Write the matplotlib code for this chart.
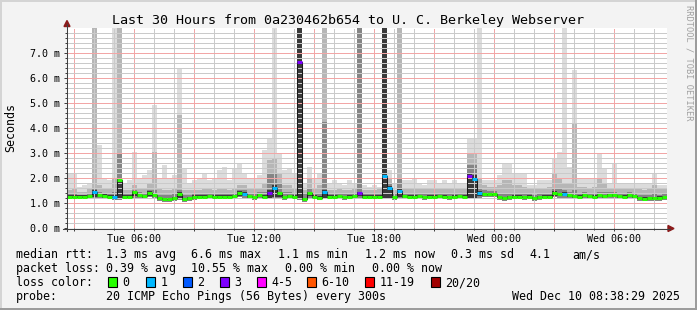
import matplotlib
matplotlib.use('Agg')
import matplotlib.pyplot as plt
import matplotlib.dates as mdates
from matplotlib.ticker import MultipleLocator, FixedLocator, FuncFormatter
from matplotlib.patches import Rectangle, Polygon
from matplotlib.lines import Line2D
import numpy as np
import pandas as pd

# ---------------- data ----------------
start_time = "2025-12-09 02:38:29"
end_time = "2025-12-10 08:38:29"
bin_freq = "15min"

median_ms = [1.25,1.25,1.25,1.25,1.27,1.42,1.30,1.28,1.25,1.22,
             1.92,1.25,1.25,1.42,1.32,1.27,1.41,1.32,1.19,1.15,
             1.15,1.19,1.36,1.15,1.19,1.25,1.25,1.25,1.27,1.25,
             1.25,1.25,1.25,1.27,1.41,1.36,1.27,1.23,1.32,1.25,
             1.39,1.60,1.39,1.22,1.27,1.25,6.65,1.15,1.39,1.25,
             1.20,1.45,1.25,1.25,1.27,1.23,1.25,1.27,1.39,1.25,
             1.25,1.25,1.25,2.09,1.60,1.22,1.49,1.27,1.25,1.25,
             1.27,1.22,1.25,1.25,1.27,1.25,1.22,1.25,1.27,1.25,
             2.08,1.96,1.41,1.35,1.35,1.35,1.22,1.19,1.22,1.25,
             1.25,1.22,1.25,1.19,1.22,1.25,1.25,1.41,1.35,1.36,
             1.30,1.27,1.25,1.30,1.27,1.25,1.30,1.27,1.30,1.30,
             1.27,1.25,1.30,1.27,1.19,1.17,1.19,1.19,1.20,1.23]

lost_pings = [0,0,0,0,0,1,0,0,0,1,
              0,0,0,0,0,0,0,0,0,0,
              0,0,0,0,0,0,0,0,0,0,
              0,0,0,0,0,1,0,0,0,0,
              3,1,0,0,0,0,3,0,0,0,
              0,1,0,0,0,0,0,0,3,0,
              0,0,0,1,1,0,1,0,0,0,
              0,0,0,0,0,0,0,0,0,0,
              3,1,1,0,0,0,0,0,0,0,
              0,0,0,0,0,0,0,0,0,1,
              0,0,0,0,0,0,0,0,0,0,
              0,0,0,0,0,0,0,0,0,0]

ping_min = [1.14,1.14,1.14,1.14,1.15,1.16,1.16,1.15,1.14,1.10,
            1.12,1.14,1.14,1.20,1.18,1.15,1.22,1.18,1.08,1.05,
            1.05,1.08,1.12,1.05,1.08,1.12,1.14,1.14,1.15,1.14,
            1.14,1.14,1.14,1.15,1.22,1.20,1.15,1.12,1.18,1.14,
            1.15,1.18,1.18,1.10,1.15,1.14,1.12,1.05,1.20,1.14,
            1.10,1.15,1.14,1.14,1.15,1.12,1.14,1.15,1.20,1.14,
            1.14,1.14,1.14,1.15,1.15,1.10,1.18,1.15,1.14,1.14,
            1.15,1.10,1.14,1.14,1.15,1.14,1.10,1.14,1.15,1.14,
            1.14,1.14,1.20,1.22,1.22,1.22,1.10,1.08,1.10,1.14,
            1.14,1.10,1.14,1.08,1.10,1.14,1.14,1.22,1.20,1.20,
            1.18,1.15,1.14,1.18,1.15,1.14,1.18,1.15,1.18,1.18,
            1.15,1.14,1.18,1.15,1.08,1.06,1.08,1.08,1.08,1.12]

ping_core = [1.31,1.31,1.31,1.31,1.33,1.50,1.36,1.34,1.31,1.30,
             2.00,1.31,1.31,1.48,1.38,1.33,1.47,1.38,1.25,1.21,
             1.21,1.25,1.42,1.21,1.25,1.31,1.31,1.31,1.33,1.31,
             1.31,1.31,1.31,1.33,1.47,1.42,1.33,1.29,1.38,1.31,
             1.50,1.70,1.45,1.28,1.33,1.31,9.00,1.21,1.45,1.31,
             1.26,1.52,1.31,1.31,1.33,1.29,1.31,1.33,1.45,1.31,
             1.31,1.31,1.31,9.00,1.66,1.28,1.55,1.33,1.31,1.31,
             1.33,1.28,1.31,1.31,1.33,1.31,1.28,1.31,1.33,1.31,
             2.20,2.10,1.47,1.41,1.41,1.41,1.28,1.25,1.28,1.31,
             1.31,1.28,1.31,1.25,1.28,1.31,1.31,1.47,1.41,1.42,
             1.36,1.33,1.31,1.36,1.33,1.31,1.36,1.33,1.36,1.36,
             1.33,1.31,1.36,1.33,1.25,1.23,1.25,1.25,1.26,1.29]

ping_p75 = [1.35,1.35,1.32,1.32,1.38,1.55,1.45,1.40,1.38,1.45,
            3.00,1.35,1.35,1.50,1.45,1.40,1.50,1.50,1.32,1.30,
            1.30,1.35,1.50,1.30,1.30,1.35,1.35,1.35,1.38,1.35,
            1.35,1.38,1.35,1.40,1.50,1.50,1.40,1.35,1.45,1.45,
            2.20,2.20,1.80,1.45,1.45,1.40,9.00,1.35,1.60,1.40,
            1.40,4.25,1.35,1.35,1.38,1.35,1.35,1.38,9.00,1.35,
            1.35,1.35,1.38,9.00,1.80,1.35,2.00,1.38,1.35,1.35,
            1.38,1.35,1.35,1.38,1.38,1.35,1.35,1.35,1.38,1.38,
            2.50,2.50,1.60,1.50,1.48,1.48,1.38,1.40,1.40,1.38,
            1.38,1.35,1.35,1.32,1.35,1.35,1.40,1.60,1.55,1.50,
            1.45,1.50,1.38,1.42,1.40,1.38,1.45,1.42,1.42,1.42,
            1.40,1.38,1.42,1.40,1.32,1.30,1.32,1.35,1.32,1.35]

ping_p90 = [1.50,1.55,1.45,1.45,1.55,9.00,1.70,1.60,1.55,2.00,
            9.00,1.50,1.50,1.70,1.60,1.60,1.75,3.05,1.55,1.50,
            1.50,1.60,4.50,1.50,1.50,1.50,1.50,1.55,1.55,1.50,
            1.55,1.60,1.50,1.60,1.70,1.70,1.60,1.55,1.60,1.80,
            2.70,2.80,2.20,1.70,1.70,1.60,9.00,1.50,2.00,1.60,
            1.70,9.00,1.50,1.50,1.55,1.50,1.50,1.55,9.00,1.50,
            1.50,1.50,1.55,9.00,2.00,1.50,9.00,1.60,1.55,1.55,
            1.60,1.55,1.55,1.60,1.60,1.55,1.55,1.55,1.60,1.60,
            3.00,3.00,2.00,1.70,1.65,1.65,1.70,1.90,1.90,1.70,
            1.70,1.65,1.55,1.55,1.60,1.60,1.65,2.20,2.00,1.80,
            1.80,4.20,1.65,1.65,1.60,1.65,2.00,1.80,1.60,1.60,
            1.60,1.55,1.60,1.60,1.55,1.50,1.55,1.70,1.55,1.55]

ping_max = [2.20,2.20,1.65,1.70,1.80,9.00,3.30,1.95,1.90,9.00,
            9.00,1.80,1.90,3.05,2.00,2.10,2.30,4.90,2.00,2.50,
            2.00,2.10,6.40,2.40,1.80,1.90,2.00,2.20,1.90,2.00,
            2.30,2.45,1.90,2.40,2.60,2.20,2.00,2.00,2.10,3.10,
            3.60,9.00,3.00,2.30,2.40,2.20,9.00,1.80,2.45,2.00,
            2.20,9.00,1.80,1.90,1.80,1.70,1.90,1.80,9.00,1.70,
            1.65,1.70,1.65,9.00,2.30,1.80,9.00,1.90,1.90,2.00,
            1.80,1.70,1.90,1.90,1.80,1.90,1.80,1.90,1.80,1.80,
            3.60,3.60,9.00,1.92,1.92,1.92,2.12,2.59,2.59,2.19,
            2.19,2.19,1.70,1.70,1.92,1.92,1.92,2.79,3.05,9.00,
            2.45,6.30,1.95,1.95,1.95,1.95,3.00,2.39,1.80,2.60,
            1.80,1.80,1.80,1.80,1.80,1.80,1.80,2.19,1.70,1.70]

y_ticks_ms = [0, 1, 2, 3, 4, 5, 6, 7]
title = "Last 30 Hours from 0a230462b654 to U. C. Berkeley Webserver"
rtt_stats = ["1.3 ms avg", "6.6 ms max", "1.1 ms min", "1.2 ms now", "0.3 ms sd", "4.1", "am/s"]
loss_stats = ["0.39 % avg", "10.55 % max", "0.00 % min", "0.00 % now"]
loss_labels = ["0", "1", "2", "3", "4-5", "6-10", "11-19", "20/20"]
loss_colors = ["#26ff00", "#00b8ff", "#0059ff", "#7e00ff", "#ff00ff", "#ff5500", "#ff0000", "#a10000"]
probe_text = "20 ICMP Echo Pings (56 Bytes) every 300s"
stamp_text = "Wed Dec 10 08:38:29 2025"

# ---------------- figure ----------------
W, H = 697, 310
plt.rcParams['font.family'] = ['DejaVu Sans Mono']
fig = plt.figure(figsize=(W / 100, H / 100), dpi=100, facecolor='#f3f3f3')

def fx(x):
    return x / W

def fy(y):
    return 1 - y / H

ax = fig.add_axes([fx(67), fy(228), 600 / W, 200 / H])
ax.set_facecolor('white')

edges = pd.date_range(pd.Timestamp(start_time), periods=len(median_ms) + 1, freq=bin_freq)
xe = mdates.date2num(edges.to_pydatetime())

def ext(a):
    a = list(a)
    return np.array(a + [a[-1]])

lo = ext(ping_min)
med = ext(median_ms)
ax.fill_between(xe, lo, ext(ping_max), step='post', color='#dcdcdc', lw=0, zorder=1)
ax.fill_between(xe, lo, ext(ping_p90), step='post', color='#b6b6b6', lw=0, zorder=1)
ax.fill_between(xe, lo, ext(ping_p75), step='post', color='#858585', lw=0, zorder=1)
ax.fill_between(xe, np.minimum(med, lo + 0.06), ext(ping_core), step='post',
                color='#3a3a3a', lw=0, zorder=1)

ax.step(xe, med, where='post', color='#1a1a1a', lw=0.75, zorder=4)

def loss_bucket(n):
    if n <= 3:
        return n
    if n <= 5:
        return 4
    if n <= 10:
        return 5
    if n <= 19:
        return 6
    return 7

cols = [loss_colors[loss_bucket(n)] for n in lost_pings]
ax.hlines(median_ms, xe[:-1], xe[1:], colors=cols, lw=2.2, zorder=5)

ax.set_xlim(mdates.date2num(pd.Timestamp(start_time).to_pydatetime()),
            mdates.date2num(pd.Timestamp(end_time).to_pydatetime()))
ax.set_ylim(0, 7.99)

ax.xaxis.set_major_locator(mdates.HourLocator(byhour=range(0, 24, 3)))
ax.xaxis.set_minor_locator(mdates.HourLocator())

def xfmt(v, pos):
    d = mdates.num2date(v)
    return d.strftime('%a %H:%M') if d.hour % 6 == 0 else ''

ax.xaxis.set_major_formatter(FuncFormatter(xfmt))
ax.yaxis.set_major_locator(FixedLocator(y_ticks_ms))
ax.yaxis.set_minor_locator(MultipleLocator(0.2))
ax.yaxis.set_major_formatter(FuncFormatter(lambda v, p: f"{v:.1f} m"))

dot = (0, (1, 1))
ax.grid(which='major', color='#f2a6a6', linestyle=dot, lw=0.72)
ax.grid(which='minor', color='#cacaca', linestyle=dot, lw=0.72)
ax.set_axisbelow(False)
for tk in ax.xaxis.get_minor_ticks() + ax.yaxis.get_minor_ticks() + \
        ax.xaxis.get_major_ticks() + ax.yaxis.get_major_ticks():
    tk.gridline.set_antialiased(False)
    tk.gridline.set_zorder(2)

ax.tick_params(which='both', direction='out', color='#404040', width=0.72,
               labelsize=7.2, labelcolor='black')
ax.tick_params(which='major', length=2.2)
ax.tick_params(which='minor', length=1.4)
ax.tick_params(axis='y', which='major', pad=2.9)
ax.tick_params(axis='x', which='major', pad=2.0)
for s in ax.spines.values():
    s.set_visible(False)

# axis lines and arrows
fig.add_artist(Line2D([fx(63), fx(670)], [fy(228.5), fy(228.5)], color='#404040', lw=0.75))
fig.add_artist(Line2D([fx(67), fx(67)], [fy(231), fy(24)], color='#404040', lw=0.75))
fig.add_artist(Polygon([[fx(668), fy(225.5)], [fx(668), fy(231.5)], [fx(674), fy(228.5)]],
                       closed=True, color='#8b1a1a', transform=fig.transFigure))
fig.add_artist(Polygon([[fx(64), fy(26.5)], [fx(70), fy(26.5)], [fx(67), fy(20.5)]],
                       closed=True, color='#8b1a1a', transform=fig.transFigure))

# texts
fig.text(fx(348), fy(24), title, ha='center', va='baseline', fontsize=9.6, color='black')
fig.text(fx(10.5), fy(128), "Seconds", rotation=90, ha='center', va='center', fontsize=8.4)
fig.text(fx(688.5), fy(5), "RRDTOOL / TOBI OETIKER", rotation=270, ha='center', va='top',
         fontsize=6.2, color='#a0a0a0')

LS = 8.4
rtt_x = [107, 191.5, 279, 366, 451.5, 530, 572.5]
fig.text(fx(16), fy(258), "median rtt:", fontsize=LS, va='baseline')
for s, x in zip(rtt_stats, rtt_x):
    fig.text(fx(x - 0.7), fy(258), s, fontsize=LS, va='baseline')
loss_x = [107, 191.5, 286, 372.5]
fig.text(fx(16), fy(272), "packet loss:", fontsize=LS, va='baseline')
for s, x in zip(loss_stats, loss_x):
    fig.text(fx(x - 0.7), fy(272), s, fontsize=LS, va='baseline')
fig.text(fx(16), fy(286), "loss color:", fontsize=LS, va='baseline')
box_x = [108, 146, 183, 220, 257, 307, 365, 431]
for lab, col, bx in zip(loss_labels, loss_colors, box_x):
    fig.add_artist(Rectangle((fx(bx), fy(287)), 9 / W, 10 / H, transform=fig.transFigure,
                             facecolor=col, edgecolor='black', lw=0.8))
    fig.text(fx(bx + 14.5), fy(286), lab, fontsize=LS, va='baseline')
fig.text(fx(16), fy(300), "probe:", fontsize=LS, va='baseline')
fig.text(fx(106.5), fy(300), probe_text, fontsize=LS, va='baseline')
fig.text(fx(512.5), fy(300), stamp_text, fontsize=LS, va='baseline')

# 3D border
def frect(x0, y0, x1, y1, c):
    fig.add_artist(Rectangle((fx(x0), fy(y1)), (x1 - x0) / W, (y1 - y0) / H,
                             transform=fig.transFigure, facecolor=c, edgecolor='none', lw=0))

frect(0, 0, W, 2, '#d4d4d4')
frect(0, 0, 2, H, '#d4d4d4')
frect(0, H - 2, W, H, '#9c9c9c')
frect(W - 2, 0, W, H, '#9c9c9c')

fig.savefig('out.png', dpi=100, facecolor=fig.get_facecolor())
